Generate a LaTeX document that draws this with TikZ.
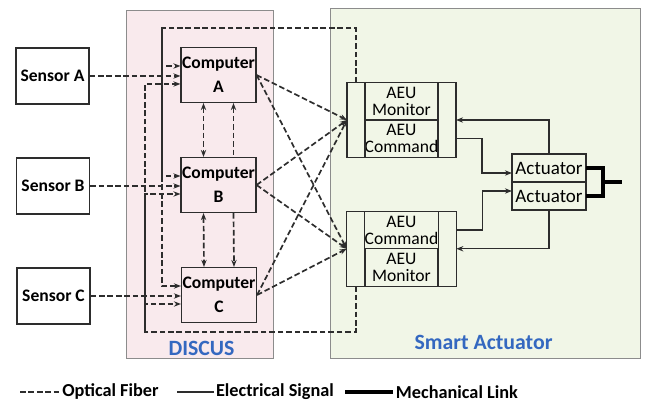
\documentclass[tikz,border=0pt]{standalone}
\usepackage{fontspec}
\setmainfont{Carlito}
\usepackage{xcolor}
\usepackage{tikz}
\usetikzlibrary{arrows.meta,positioning,calc}
\definecolor{discuspink}{RGB}{249,234,237}
\definecolor{smartgreen}{RGB}{241,246,231}
\definecolor{labelblue}{RGB}{52,104,192}
\definecolor{linegray}{RGB}{45,45,45}
\definecolor{framegray}{RGB}{140,140,140}

\begin{document}
\begin{tikzpicture}[
    x=0.025cm, y=-0.025cm,
    >={Stealth[length=5pt,width=3.8pt]},
    region/.style={rectangle, draw=framegray, inner sep=0pt},
    regionlabel/.style={font=\bfseries\fontsize{15.5}{18}\selectfont, text=labelblue},
    sensor/.style={rectangle, draw=linegray, fill=white, line width=0.8pt, minimum width=1.825cm, minimum height=1.4cm, inner sep=0pt, font=\bfseries\fontsize{12.5}{15}\selectfont},
    comp/.style={rectangle, draw=linegray, line width=0.8pt, minimum width=1.875cm, minimum height=1.375cm, inner sep=0pt, align=center, font=\bfseries\fontsize{12.5}{17}\selectfont},
    aeu/.style={rectangle, draw=linegray, line width=0.8pt, minimum width=1.825cm, minimum height=0.9375cm, inner sep=0pt, outer sep=0pt, align=center, font=\fontsize{12.5}{12}\selectfont},
    strip/.style={rectangle, draw=linegray, line width=0.8pt, minimum width=0.45cm, minimum height=1.875cm, inner sep=0pt, outer sep=0pt},
    act/.style={rectangle, draw=linegray, line width=0.8pt, minimum width=1.85cm, minimum height=0.7cm, inner sep=0pt, outer sep=0pt, font=\fontsize{13.5}{15}\selectfont},
    fiber/.style={draw=linegray, line width=1.2pt, dash pattern=on 4pt off 2pt},
    wire/.style={draw=linegray, line width=0.9pt},
    mech/.style={draw=black, line width=2.2pt},
    legend/.style={font=\bfseries\fontsize{13}{15}\selectfont, anchor=west, inner sep=1pt}
  ]
    \useasboundingbox (0,0) rectangle (648,411);

    % regions
    \node[region, fill=discuspink, minimum width=3.675cm, minimum height=8.7cm] (discus) at (199.5,184) {};
    \node[region, fill=smartgreen, minimum width=7.75cm, minimum height=8.75cm] (smart) at (485,183) {};
    \node[regionlabel] (discusLbl) at (201.5,348) {DISCUS};
    \node[regionlabel] (smartLbl) at (483.5,342) {Smart Actuator};

    % sensors and computers
    \node[sensor] (sA) at (52.5,76) {Sensor A};
    \node[sensor] (sB) at (53,186) {Sensor B};
    \node[sensor] (sC) at (53.5,296) {Sensor C};

    \node[comp] (cA) at (218.5,75) {Computer\\A};
    \node[comp] (cB) at (218.5,185) {Computer\\B};
    \node[comp] (cC) at (219,295) {Computer\\C};

    % AEUs
    \node[aeu] (monA) at (401.5,101.25) {AEU\\Monitor};
    \node[aeu] (cmdA) at (401.5,138.75) {AEU\\Command};
    \node[strip, anchor=north east] (inA) at (monA.north west) {};
    \node[strip, anchor=north west] (outA) at (monA.north east) {};

    \node[aeu] (cmdB) at (401.5,230) {AEU\\Command};
    \node[aeu] (monB) at (401.5,267.5) {AEU\\Monitor};
    \node[strip, anchor=north east] (inB) at (cmdB.north west) {};
    \node[strip, anchor=north west] (outB) at (cmdB.north east) {};

    % actuators
    \node[act] (actA) at (549,168) {Actuator};
    \node[act] (actB) at (549,196) {Actuator};

    % optical fiber
    \foreach \s/\c in {sA/cA,sB/cB,sC/cC}
      \draw[fiber,->] (\s.east) -- (\s.east -| \c.west);

    \coordinate (busT) at (162,28);
    \coordinate (busB) at (145,332);
    \draw[fiber,->] (inA.north) |- (busT) |- ($(cC.west)+(0,-9)$);
    \foreach \c in {cA,cB}
      \draw[fiber,->] (busT) |- ($(\c.west)+(0,-9)$);
    \draw[fiber,->] (inB.south) |- (busB) |- ($(cA.west)+(0,9)$);
    \foreach \c in {cB,cC}
      \draw[fiber,->] (busB) |- ($(\c.west)+(0,9)$);

    \draw[fiber,<->] ($(cA.south)+(-15,0)$) -- ($(cB.north)+(-15,0)$);
    \draw[fiber,<-] ($(cA.south)+(15,0)$) -- ($(cB.north)+(15,0)$);
    \draw[fiber,<->] ($(cB.south)+(-15,0)$) -- ($(cC.north)+(-15,0)$);
    \draw[fiber,->] ($(cB.south)+(15,0)$) -- ($(cC.north)+(15,0)$);

    \foreach \c in {cA,cB,cC}{
      \draw[fiber,->] (\c.east) -- (inA.west);
      \draw[fiber,->] (\c.east) -- (inB.west);
    }

    % electrical signals
    \draw[wire,->] (cmdA -| outA.east) -- ++(26,0) |- ($(actA.west)+(0,5)$);
    \draw[wire,->] (actA.north) |- (outA.east);
    \draw[wire,->] (cmdB -| outB.east) -- ++(26,0) |- ($(actB.west)+(0,-5)$);
    \draw[wire,->] (actB.south) |- (outB.east);

    % mechanical link
    \coordinate (mj) at (603,182);
    \coordinate (shaft) at (622,182);
    \draw[mech] (actA.east) -| (mj) |- (actB.east);
    \draw[mech] (mj) -- (shaft);

    % legend
    \coordinate (lgF) at (20,392);
    \coordinate (lgE) at (177,392);
    \coordinate (lgM) at (345,392);
    \draw[fiber] (lgF) -- ++(40,0) node[legend] (lgFtxt) {Optical Fiber};
    \draw[wire] (lgE) -- ++(37,0) node[legend] (lgEtxt) {Electrical Signal};
    \draw[mech] (lgM) -- ++(48,0) node[legend] (lgMtxt) {Mechanical Link};
  \end{tikzpicture}
\end{document}
